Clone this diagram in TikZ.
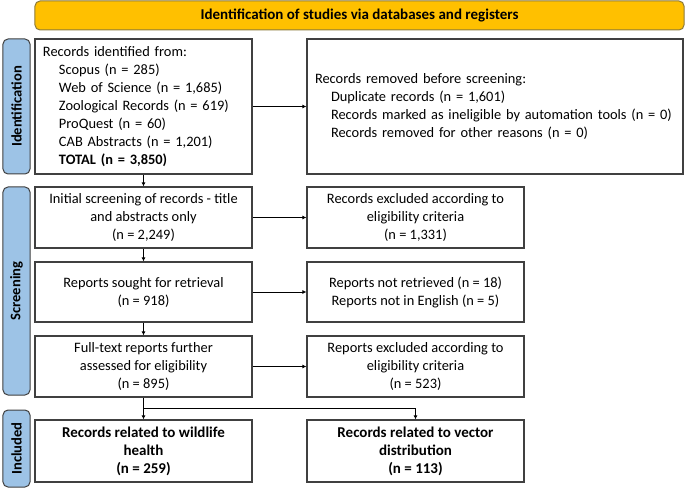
\documentclass[tikz,border=0pt]{standalone}
\usepackage{fontspec}
\setmainfont{Carlito}
\usetikzlibrary{arrows.meta,calc}
\definecolor{banner}{HTML}{FFC000}
\definecolor{bannerline}{HTML}{8C7A3A}
\definecolor{side}{HTML}{9DC3E6}
\definecolor{boxline}{HTML}{404040}
\tikzset{
  box/.style={draw=boxline, line width=1.1bp, fill=white, minimum width=217bp, inner sep=0pt, align=center, font=\fontsize{14.4bp}{18bp}\selectfont},
  lbox/.style={box, align=left, text width=201bp},
  boldbox/.style={box, font=\bfseries\fontsize{15bp}{18bp}\selectfont},
  sidelab/.style={draw=boxline, line width=1bp, fill=side, rounded corners=5bp, rotate=90, minimum height=27bp, inner sep=0pt, font=\bfseries\fontsize{14.6bp}{17bp}\selectfont},
  arr/.style={draw=black, line width=0.8bp, -{Latex[length=4bp,width=4bp]}},
  ln/.style={draw=black, line width=0.8bp}
}
\newcommand{\ind}{\hspace*{16bp}}
\begin{document}
\begin{tikzpicture}[x=1bp,y=-1bp]
\useasboundingbox (0,0) rectangle (685,491);
% banner
\node[draw=bannerline, line width=1bp, fill=banner, rounded corners=5bp, minimum width=649bp, minimum height=29bp, inner sep=0pt, font=\bfseries\fontsize{15bp}{17bp}\selectfont] (ban) at (359.5,15.5) {Identification of studies via databases and registers};
% side labels
\node[sidelab, minimum width=135bp] (lid) at (16.5,106.5) {Identification};
\node[sidelab, minimum width=208bp] (lsc) at (16.5,291) {Screening};
\node[sidelab, minimum width=77bp] (lin) at (16.5,448.5) {Included};
% identification
\node[lbox, minimum height=135bp] (b1) at (143.5,106.5) {Records identified from:\\
\ind Scopus (n = 285)\\
\ind Web of Science (n = 1,685)\\
\ind Zoological Records (n = 619)\\
\ind ProQuest (n = 60)\\
\ind CAB Abstracts (n = 1,201)\\
\ind\textbf{TOTAL (n = 3,850)}};
\node[lbox, minimum width=376bp, text width=360bp, minimum height=135bp] (rem) at (495,106.5) {Records removed before screening:\\
\ind Duplicate records (n = 1,601)\\
\ind Records marked as ineligible by automation tools (n = 0)\\
\ind Records removed for other reasons (n = 0)};
% screening
\node[box, minimum height=61bp] (s1) at (143.5,217.5) {Initial screening of records - title\\ and abstracts only\\ (n = 2,249)};
\node[box, minimum height=61bp] (e1) at (415.5,217.5) {Records excluded according to\\ eligibility criteria\\ (n = 1,331)};
\node[box, minimum height=60bp] (s2) at (143.5,292) {Reports sought for retrieval\\ (n = 918)};
\node[box, minimum height=60bp] (e2) at (415.5,292) {Reports not retrieved (n = 18)\\ Reports not in English (n = 5)};
\node[box, minimum height=61bp] (s3) at (143.5,366.5) {Full-text reports further\\ assessed for eligibility\\ (n = 895)};
\node[box, minimum height=61bp] (e3) at (415.5,366.5) {Reports excluded according to\\ eligibility criteria\\ (n = 523)};
% included
\node[boldbox, minimum height=62bp] (i1) at (143.5,451) {Records related to wildlife\\ health\\ (n = 259)};
\node[boldbox, minimum height=62bp] (i2) at (415.5,451) {Records related to vector\\ distribution\\ (n = 113)};
% connectors
\draw[arr] (b1.east) -- (rem.west);
\draw[arr] (b1.south) -- (s1.north);
\draw[arr] (s1.east) -- (e1.west);
\draw[arr] (s1.south) -- (s2.north);
\draw[arr] (s2.east) -- (e2.west);
\draw[arr] (s2.south) -- (s3.north);
\draw[arr] (s3.east) -- (e3.west);
\draw[arr] (s3.south) -- (i1.north);
\coordinate (j) at ($(s3.south)!0.5!(i1.north)$);
\draw[arr] (j) -| (i2.north);
\end{tikzpicture}
\end{document}
